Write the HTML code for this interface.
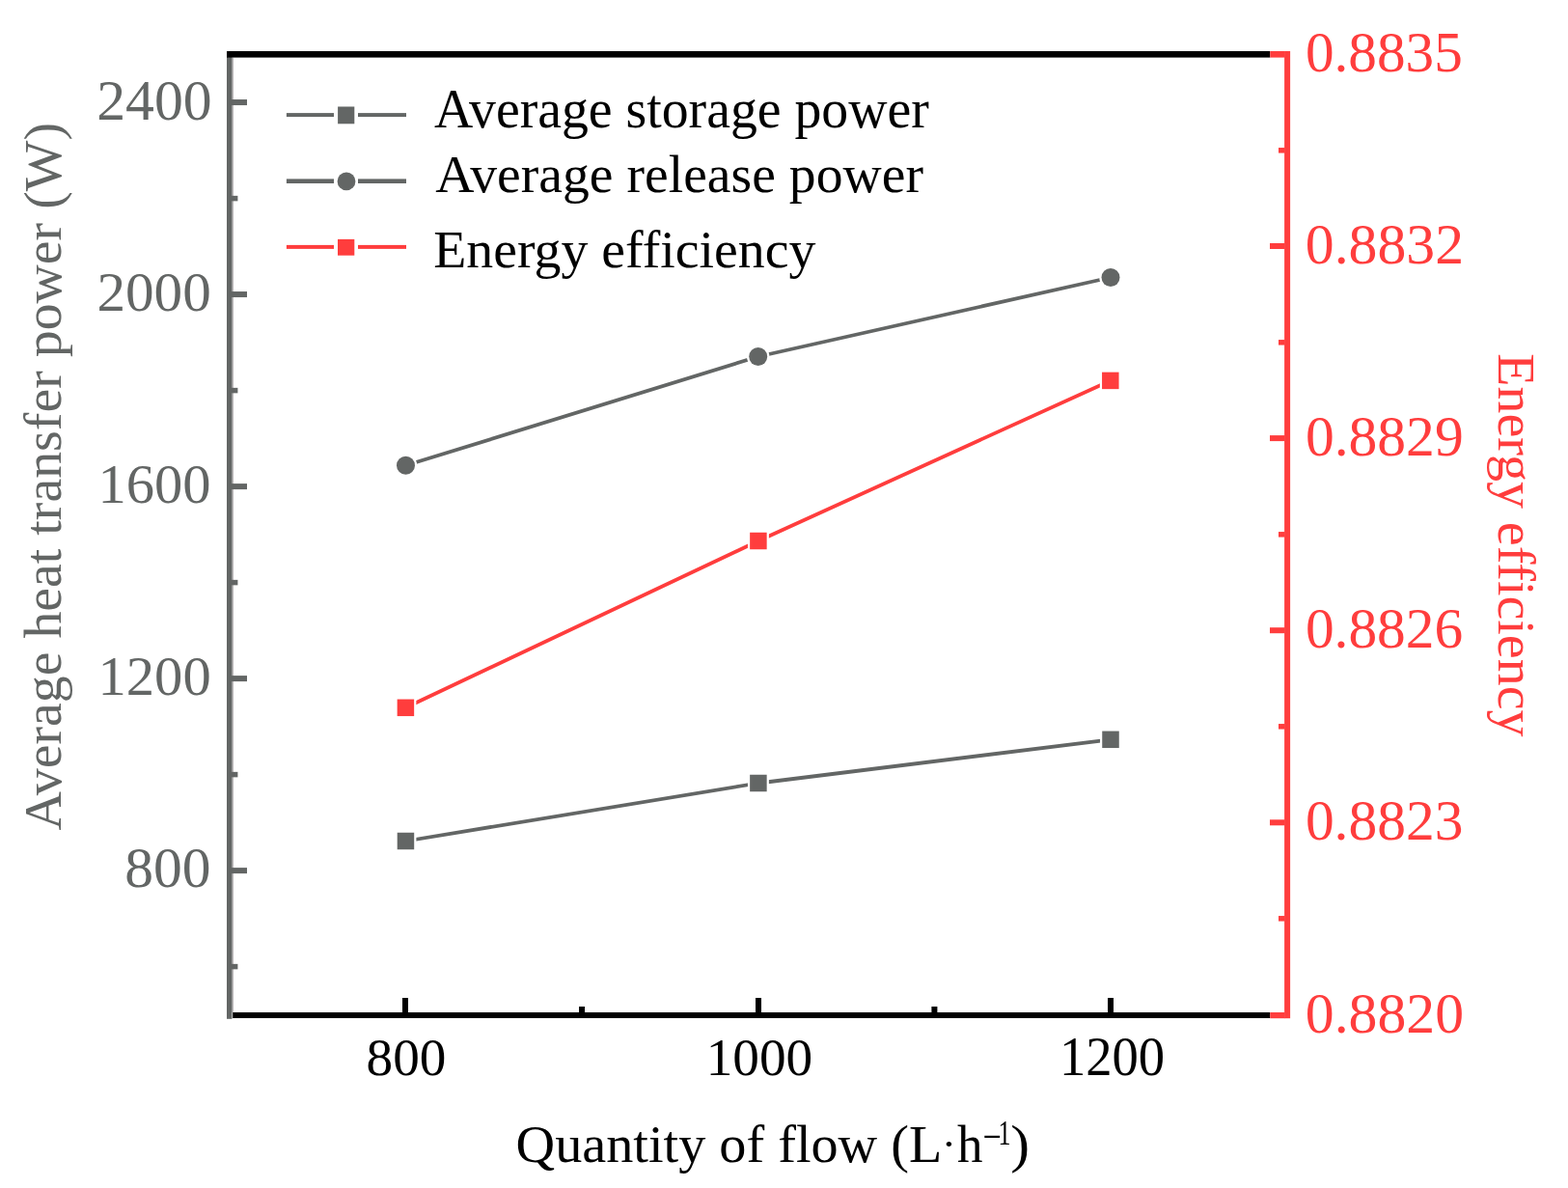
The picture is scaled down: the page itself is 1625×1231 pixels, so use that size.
<!DOCTYPE html>
<html>
<head>
<meta charset="utf-8">
<style>
html,body{margin:0;padding:0;background:#fff;}
body{width:1625px;height:1231px;overflow:hidden;}
svg{display:block;}
text{font-family:"Liberation Serif","Times New Roman",serif;}
</style>
</head>
<body>
<svg width="1625" height="1231" viewBox="0 0 1625 1231">
<rect x="0" y="0" width="1625" height="1231" fill="#fff"/>
<rect x="240.40" y="59.60" width="1.60" height="989.40" fill="#bab6b8"/>
<rect x="235.00" y="53.00" width="5.50" height="1002.80" fill="#636665"/>
<rect x="238.00" y="103.05" width="18.00" height="6.00" fill="#636665"/>
<rect x="238.00" y="302.05" width="18.00" height="6.00" fill="#636665"/>
<rect x="238.00" y="501.10" width="18.00" height="6.00" fill="#636665"/>
<rect x="238.00" y="700.10" width="18.00" height="6.00" fill="#636665"/>
<rect x="238.00" y="899.10" width="18.00" height="6.00" fill="#636665"/>
<rect x="238.00" y="202.85" width="8.40" height="5.50" fill="#636665"/>
<rect x="238.00" y="401.85" width="8.40" height="5.50" fill="#636665"/>
<rect x="238.00" y="600.85" width="8.40" height="5.50" fill="#636665"/>
<rect x="238.00" y="799.85" width="8.40" height="5.50" fill="#636665"/>
<rect x="238.00" y="998.85" width="8.40" height="5.50" fill="#636665"/>
<rect x="235.00" y="53.00" width="1081.30" height="6.60" fill="#000"/>
<rect x="241.20" y="1049.00" width="1075.10" height="6.00" fill="#000"/>
<rect x="417.00" y="1034.00" width="6.00" height="15.50" fill="#000"/>
<rect x="783.00" y="1034.00" width="6.00" height="15.50" fill="#000"/>
<rect x="1148.00" y="1034.00" width="6.00" height="15.50" fill="#000"/>
<rect x="600.05" y="1043.00" width="6.00" height="6.50" fill="#000"/>
<rect x="965.40" y="1043.00" width="6.00" height="6.50" fill="#000"/>
<rect x="1331.10" y="53.00" width="6.00" height="1002.20" fill="#ff3d3d"/>
<rect x="1316.30" y="53.00" width="15.20" height="6.60" fill="#ff3d3d"/>
<rect x="1316.30" y="1049.00" width="15.20" height="6.20" fill="#ff3d3d"/>
<rect x="1316.00" y="252.00" width="15.50" height="6.00" fill="#ff3d3d"/>
<rect x="1316.00" y="451.10" width="15.50" height="6.00" fill="#ff3d3d"/>
<rect x="1316.00" y="650.20" width="15.50" height="6.00" fill="#ff3d3d"/>
<rect x="1316.00" y="849.30" width="15.50" height="6.00" fill="#ff3d3d"/>
<rect x="1325.00" y="153.05" width="6.50" height="5.50" fill="#ff3d3d"/>
<rect x="1325.00" y="352.05" width="6.50" height="5.50" fill="#ff3d3d"/>
<rect x="1325.00" y="551.05" width="6.50" height="5.50" fill="#ff3d3d"/>
<rect x="1325.00" y="750.05" width="6.50" height="5.50" fill="#ff3d3d"/>
<rect x="1325.00" y="949.05" width="6.50" height="5.50" fill="#ff3d3d"/>
<polyline fill="none" stroke="#636665" stroke-width="3.80" stroke-linejoin="round" stroke-linecap="round" points="420.45,871.50 785.90,811.50 1151.00,766.30"/>
<polyline fill="none" stroke="#636665" stroke-width="3.80" stroke-linejoin="round" stroke-linecap="round" points="420.50,482.30 785.70,369.50 1151.00,287.50"/>
<polyline fill="none" stroke="#ff3d3d" stroke-width="3.80" stroke-linejoin="round" stroke-linecap="round" points="420.40,733.30 785.90,560.50 1150.80,394.40"/>
<rect x="409.50" y="860.55" width="21.90" height="21.90" fill="#fff"/>
<rect x="774.95" y="800.55" width="21.90" height="21.90" fill="#fff"/>
<rect x="1140.05" y="755.35" width="21.90" height="21.90" fill="#fff"/>
<circle cx="420.50" cy="482.30" r="11.70" fill="#fff"/>
<circle cx="785.70" cy="369.50" r="11.70" fill="#fff"/>
<circle cx="1151.00" cy="287.50" r="11.70" fill="#fff"/>
<rect x="409.45" y="722.35" width="21.90" height="21.90" fill="#fff"/>
<rect x="774.95" y="549.55" width="21.90" height="21.90" fill="#fff"/>
<rect x="1139.85" y="383.45" width="21.90" height="21.90" fill="#fff"/>
<rect x="411.70" y="862.75" width="17.50" height="17.50" fill="#636665"/>
<rect x="777.15" y="802.75" width="17.50" height="17.50" fill="#636665"/>
<rect x="1142.25" y="757.55" width="17.50" height="17.50" fill="#636665"/>
<circle cx="420.50" cy="482.30" r="9.50" fill="#636665"/>
<circle cx="785.70" cy="369.50" r="9.50" fill="#636665"/>
<circle cx="1151.00" cy="287.50" r="9.50" fill="#636665"/>
<rect x="411.65" y="724.55" width="17.50" height="17.50" fill="#ff3d3d"/>
<rect x="777.15" y="551.75" width="17.50" height="17.50" fill="#ff3d3d"/>
<rect x="1142.05" y="385.65" width="17.50" height="17.50" fill="#ff3d3d"/>
<rect x="296.90" y="117.10" width="49.10" height="4.00" fill="#636665"/>
<rect x="371.00" y="117.10" width="50.00" height="4.00" fill="#636665"/>
<rect x="350.10" y="110.50" width="17.20" height="17.80" fill="#636665"/>
<rect x="296.90" y="185.40" width="49.10" height="4.60" fill="#636665"/>
<rect x="371.00" y="185.40" width="50.00" height="4.60" fill="#636665"/>
<circle cx="359.00" cy="187.90" r="9.40" fill="#636665"/>
<rect x="296.90" y="253.90" width="49.10" height="4.00" fill="#ff3d3d"/>
<rect x="371.00" y="253.90" width="50.00" height="4.00" fill="#ff3d3d"/>
<rect x="350.00" y="247.90" width="17.30" height="16.80" fill="#ff3d3d"/>
<text font-size="58" fill="#636665" transform="matrix(1.0301 0.0000 0.0000 1.0023 100.1866 123.5178)">2400</text>
<text font-size="58" fill="#636665" transform="matrix(1.0201 0.0000 0.0000 0.9943 100.4019 322.4974)">2000</text>
<text font-size="58" fill="#636665" transform="matrix(1.0098 0.0000 0.0000 0.9943 101.5249 521.4985)">1600</text>
<text font-size="58" fill="#636665" transform="matrix(1.0098 0.0000 0.0000 1.0006 101.5312 719.5004)">1200</text>
<text font-size="58" fill="#636665" transform="matrix(1.0265 0.0000 0.0000 1.0223 129.2884 919.3077)">800</text>
<text font-size="58" fill="#ff3d3d" transform="matrix(1.0215 0.0000 0.0000 1.0187 1352.9373 74.4083)">0.8835</text>
<text font-size="58" fill="#ff3d3d" transform="matrix(1.0295 0.0000 0.0000 1.0363 1352.8242 273.3601)">0.8832</text>
<text font-size="58" fill="#ff3d3d" transform="matrix(1.0270 0.0000 0.0000 1.0315 1352.8881 472.3983)">0.8829</text>
<text font-size="58" fill="#ff3d3d" transform="matrix(1.0235 0.0000 0.0000 1.0363 1352.9223 671.3522)">0.8826</text>
<text font-size="58" fill="#ff3d3d" transform="matrix(1.0259 0.0000 0.0000 1.0363 1352.8766 870.3522)">0.8823</text>
<text font-size="58" fill="#ff3d3d" transform="matrix(1.0295 0.0000 0.0000 1.0363 1352.8241 1070.3534)">0.8820</text>
<text font-size="55" fill="#000" transform="matrix(1.0030 0.0000 0.0000 0.9961 379.5639 1113.5659)">800</text>
<text font-size="55" fill="#000" transform="matrix(1.0051 0.0000 0.0000 0.9989 731.6279 1113.6778)">1000</text>
<text font-size="55" fill="#000" transform="matrix(0.9937 0.0000 0.0000 1.0284 1097.9013 1113.7299)">1200</text>
<text font-size="55" fill="#000" transform="matrix(1.0139 0.0000 0.0000 1.0267 449.8795 131.6429)">Average storage power</text>
<text font-size="55" fill="#000" transform="matrix(1.0121 0.0000 0.0000 1.0053 451.1856 198.9378)">Average release power</text>
<text font-size="55" fill="#000" transform="matrix(1.0152 0.0000 0.0000 1.0165 449.1960 276.8021)">Energy efficiency</text>
<text font-size="56" fill="#000" transform="matrix(1.0038 0.0000 0.0000 0.9736 534.5823 1204.0752)">Quantity of flow (L</text>
<text font-size="56" fill="#000" transform="matrix(0.8206 0.0000 0.0000 0.7721 975.8396 1200.4123)">·</text>
<text font-size="56" fill="#000" transform="matrix(0.9444 0.0000 0.0000 0.9823 991.9124 1203.7057)">h</text>
<text font-size="31" fill="#000" transform="matrix(0.9950 0.0000 0.0000 1.4002 1020.4169 1187.5976)">–</text>
<text font-size="31" fill="#000" transform="matrix(0.8407 0.0000 0.0000 1.1387 1034.4281 1186.3173)">1</text>
<text font-size="56" fill="#000" transform="matrix(1.0588 0.0000 0.0000 0.9866 1047.1526 1203.9957)">)</text>
<text font-size="56" fill="#636665" transform="matrix(0.0000 -0.9967 0.9674 0.0000 63.3217 860.4251)">Average heat transfer power (W)</text>
<text font-size="56" fill="#ff3d3d" transform="matrix(0.0000 0.9993 -0.9721 0.0000 1552.5012 366.3146)">Energy efficiency</text>
</svg>
</body>
</html>
